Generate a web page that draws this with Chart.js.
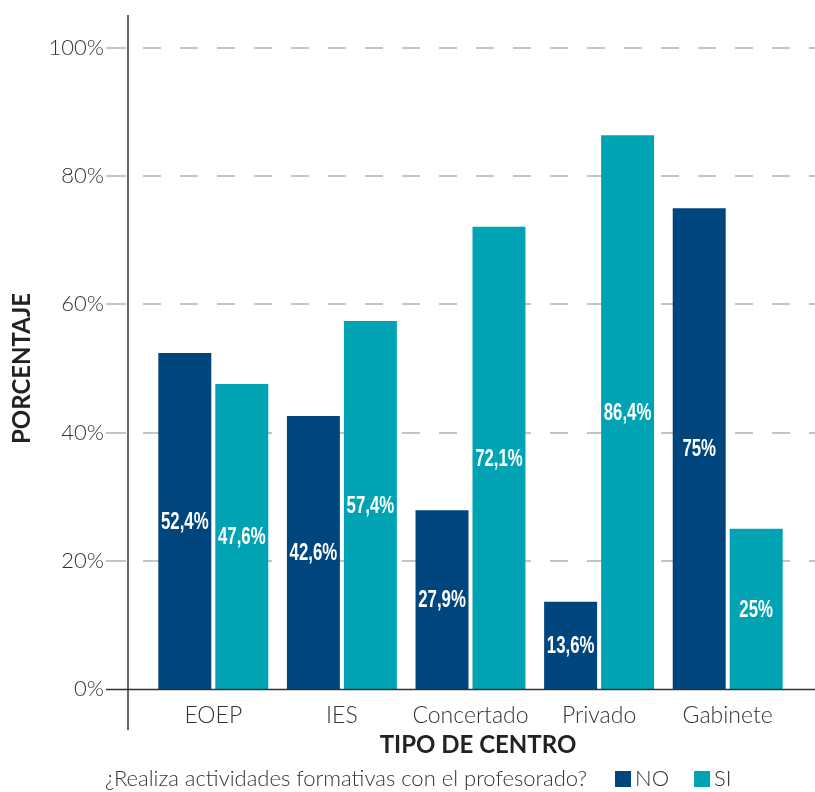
<!DOCTYPE html>
<html>
<head>
<meta charset="utf-8">
<script src="https://cdn.jsdelivr.net/npm/chart.js@4"></script>
<style>
  html, body { margin: 0; padding: 0; background: #fff; }
  #wrap { width: 815px; height: 792px; }
</style>
</head>
<body>
<div id="wrap"><canvas id="chart"></canvas></div>
<script>
// chart data
const categories = ["EOEP", "IES", "Concertado", "Privado", "Gabinete"];
const noValues = [52.4, 42.6, 27.9, 13.6, 75];
const siValues = [47.6, 57.4, 72.1, 86.4, 25];
const seriesLabels = ["NO", "SI"];
const yTicks = [0, 20, 40, 60, 80, 100];
const legendTitle = "¿Realiza actividades formativas con el profesorado?";

const NO_COLOR = "#00467e";
const SI_COLOR = "#00a3b3";
const TEXT = "#333333";
const FONT = "Lato, 'Open Sans', sans-serif";

function fmt(v) {
  return String(v).replace(".", ",") + "%";
}

// dashed grid + axis lines that run past the plot area
const gridPlugin = {
  id: "customGrid",
  beforeDatasetsDraw(chart) {
    const ctx = chart.ctx;
    const y = chart.scales.y;
    const area = chart.chartArea;
    ctx.save();
    yTicks.forEach(t => {
      if (t === 0) return;
      const py = Math.round(y.getPixelForValue(t));
      ctx.strokeStyle = "#c4c4c4";
      ctx.lineWidth = 2;
      ctx.setLineDash([]);
      ctx.beginPath();
      ctx.moveTo(area.left - 43, py);
      ctx.lineTo(area.left - 23, py);
      ctx.stroke();
      ctx.setLineDash([18, 19]);
      ctx.beginPath();
      ctx.moveTo(area.left - 6, py);
      ctx.lineTo(chart.width, py);
      ctx.stroke();
    });
    ctx.restore();
  },
  afterDatasetsDraw(chart) {
    const ctx = chart.ctx;
    const y = chart.scales.y;
    const area = chart.chartArea;
    const zero = Math.round(y.getPixelForValue(0)) + 0.5;
    ctx.save();
    ctx.strokeStyle = "#333";
    ctx.lineWidth = 1.5;
    ctx.beginPath();
    ctx.moveTo(area.left - 43, zero);
    ctx.lineTo(chart.width, zero);
    ctx.stroke();
    ctx.beginPath();
    ctx.moveTo(area.left - 21, 15);
    ctx.lineTo(area.left - 21, 730);
    ctx.stroke();
    ctx.restore();
  }
};

// white value labels centred inside each bar (narrowed to look condensed)
const valuePlugin = {
  id: "values",
  afterDatasetsDraw(chart) {
    const ctx = chart.ctx;
    ctx.save();
    ctx.fillStyle = "#fff";
    ctx.font = "bold 24px 'Liberation Sans', Arial, sans-serif";
    ctx.textAlign = "center";
    ctx.textBaseline = "middle";
    chart.data.datasets.forEach((ds, i) => {
      chart.getDatasetMeta(i).data.forEach((bar, j) => {
        ctx.save();
        ctx.translate(bar.x, (bar.y + bar.base) / 2 + 1);
        ctx.scale(0.7, 1);
        ctx.fillText(fmt(ds.data[j]), 0, 0);
        ctx.restore();
      });
    });
    ctx.restore();
  }
};

// axis title and legend below the chart
const bottomPlugin = {
  id: "bottomText",
  afterDraw(chart) {
    const ctx = chart.ctx;
    ctx.save();
    ctx.fillStyle = "#222";
    ctx.font = "bold 24px " + FONT;
    ctx.textAlign = "center";
    ctx.textBaseline = "middle";
    ctx.fillText("TIPO DE CENTRO", 478, 745);

    ctx.font = "300 22px " + FONT;
    ctx.fillStyle = TEXT;
    ctx.textAlign = "left";
    let x = 105;
    const ly = 779;
    ctx.fillText(legendTitle, x, ly);
    x += ctx.measureText(legendTitle).width + 28;
    chart.data.datasets.forEach(ds => {
      ctx.fillStyle = ds.backgroundColor;
      ctx.fillRect(x, ly - 8, 16, 16);
      ctx.fillStyle = TEXT;
      ctx.fillText(ds.label, x + 20, ly);
      x += 20 + ctx.measureText(ds.label).width + 25;
    });
    ctx.restore();
  }
};

new Chart(document.getElementById("chart"), {
  type: "bar",
  data: {
    labels: categories,
    datasets: [
      { label: seriesLabels[0], data: noValues, backgroundColor: NO_COLOR },
      { label: seriesLabels[1], data: siValues, backgroundColor: SI_COLOR }
    ]
  },
  options: {
    responsive: true,
    maintainAspectRatio: false,
    animation: false,
    categoryPercentage: 0.886,
    barPercentage: 0.93,
    layout: { padding: { top: 48, right: 23, left: 0, bottom: 0 } },
    plugins: {
      legend: { display: false },
      tooltip: { enabled: false }
    },
    scales: {
      x: {
        grid: { display: false, drawTicks: false },
        border: { display: false },
        ticks: {
          color: TEXT,
          padding: 13,
          font: { family: FONT, size: 23, weight: "300" }
        },
        afterFit(scale) { scale.height = 103; }
      },
      y: {
        min: 0,
        max: 100,
        afterBuildTicks(scale) { scale.ticks = yTicks.map(v => ({ value: v })); },
        grid: { display: false, drawTicks: false },
        border: { display: false },
        ticks: {
          color: TEXT,
          padding: 45,
          font: { family: FONT, size: 22, weight: "300" },
          callback: v => v + "%"
        },
        title: {
          display: true,
          text: "PORCENTAJE",
          color: "#222",
          font: { family: FONT, size: 24, weight: "bold" },
          padding: { top: 8, bottom: 0 }
        },
        afterFit(scale) {
          scale.width = 149;
          scale.paddingTop = 0;
          scale.paddingBottom = 0;
        }
      }
    }
  },
  plugins: [gridPlugin, valuePlugin, bottomPlugin]
});
</script>
</body>
</html>
